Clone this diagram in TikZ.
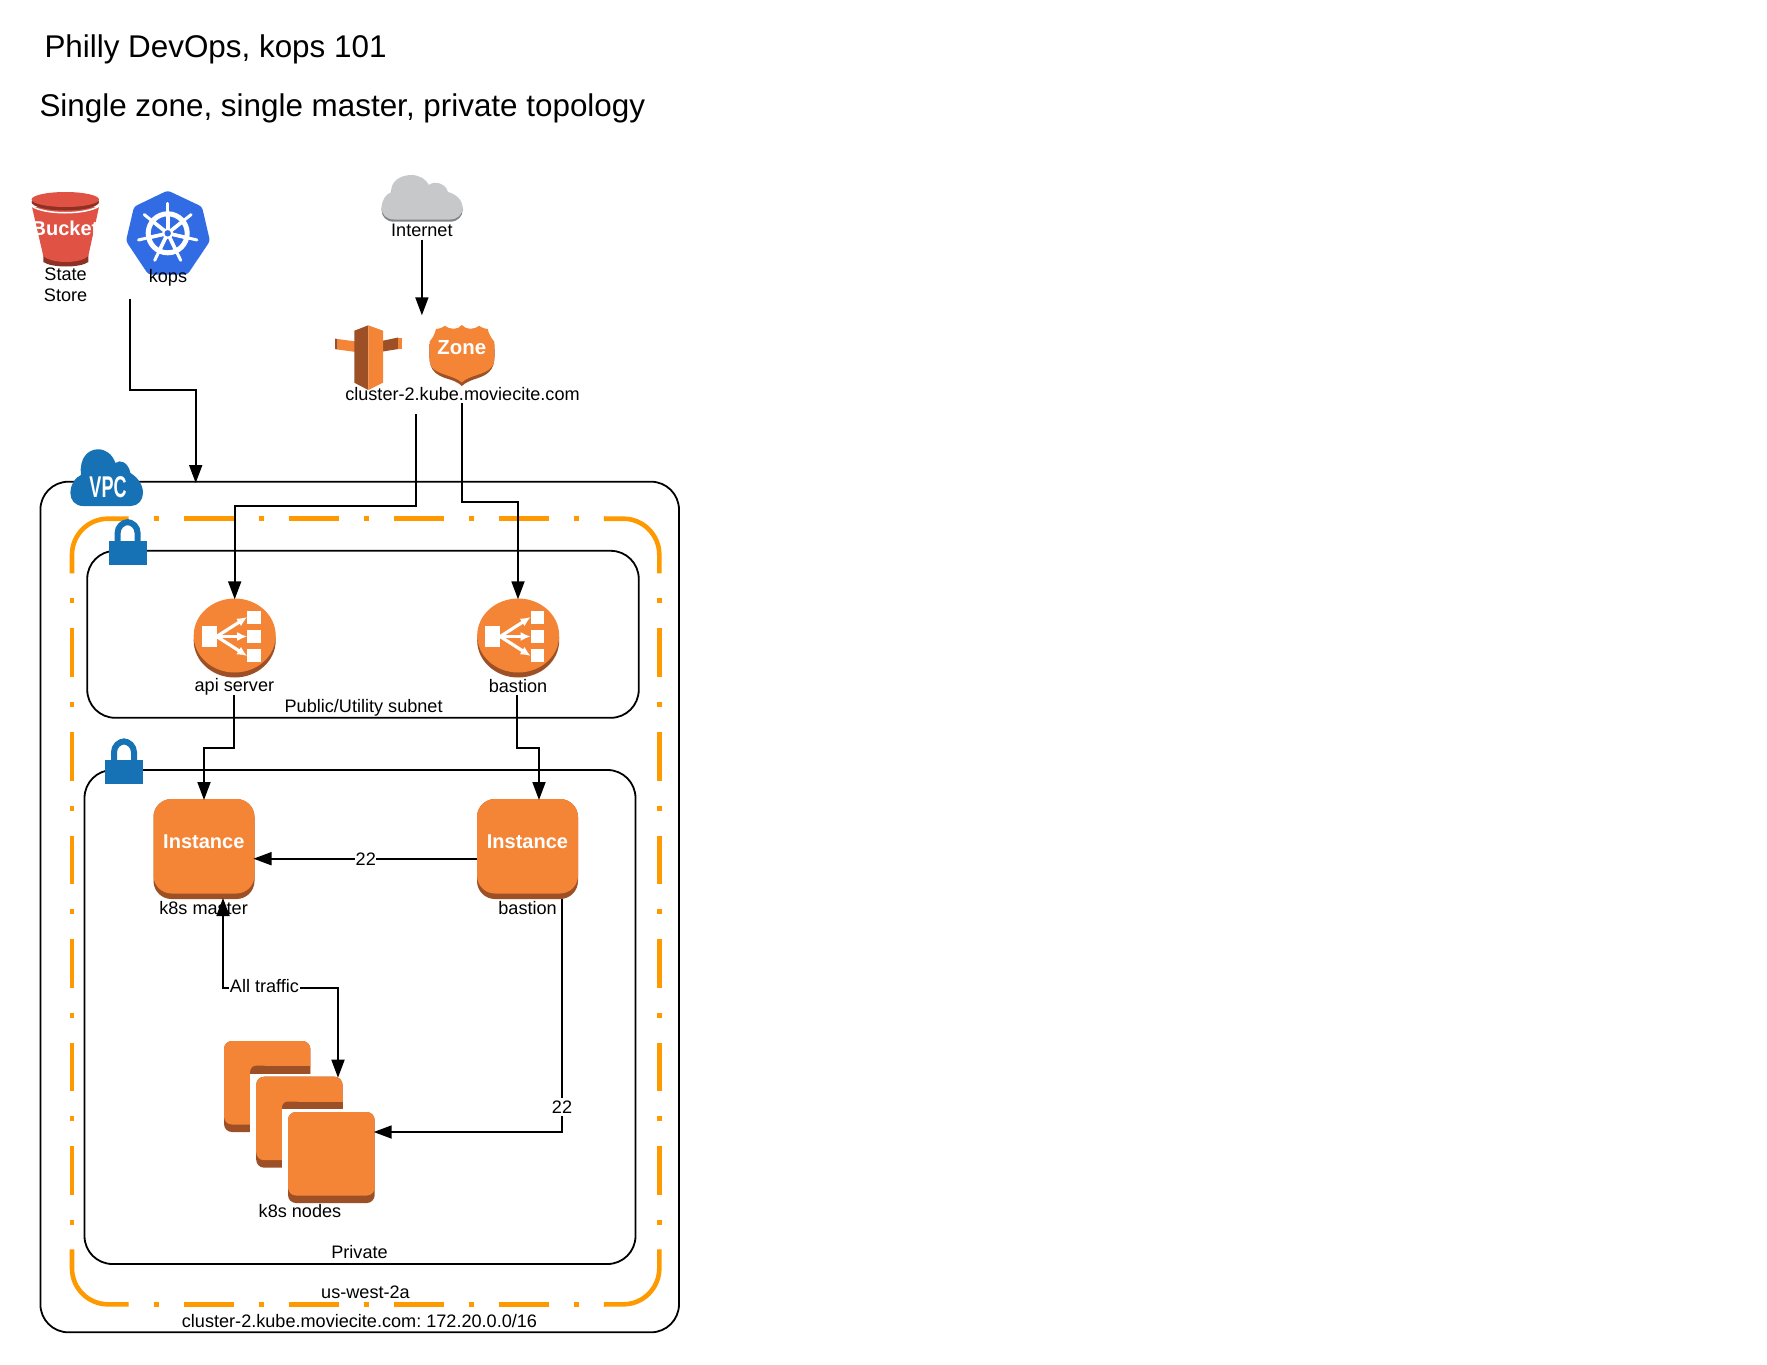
\documentclass[tikz,border=0pt]{standalone}
\usepackage{fontspec}
\usepackage{graphicx}
\setmainfont{Liberation Sans}
\frenchspacing
\usetikzlibrary{arrows.meta,calc}
\definecolor{awsorange}{HTML}{F58536}
\definecolor{awsdark}{HTML}{9D5025}
\definecolor{bucketred}{HTML}{E05243}
\definecolor{bucketdark}{HTML}{8C3123}
\definecolor{kubeblue}{HTML}{326CE5}
\definecolor{awsblue}{HTML}{1672B5}
\definecolor{cloudgray}{HTML}{C7C8CA}
\definecolor{clouddark}{HTML}{808285}
\definecolor{zoneorange}{HTML}{FF9900}
\tikzset{
  lbl/.style={inner sep=0pt,outer sep=0pt,font=\fontsize{18.1}{21.5}\selectfont,align=center},
  titletext/.style={inner sep=0pt,outer sep=0pt,anchor=west,font=\fontsize{31.4}{36}\selectfont},
  wlbl/.style={lbl,fill=white,inner xsep=0.5pt,inner ysep=2.5pt},
  iconlbl/.style={inner sep=0pt,outer sep=0pt,text=white,font=\bfseries\fontsize{20}{22}\selectfont},
  framebox/.style={draw=black,line width=1.8pt,rounded corners=28pt,rectangle,inner sep=0pt,outer sep=0pt},
  conn/.style={draw=black,line width=1.8pt,shorten >=-1pt,-{Triangle[length=18pt,width=13pt]}},
  bothconn/.style={draw=black,line width=1.8pt,shorten >=-1pt,shorten <=-1pt,{Triangle[length=18pt,width=13pt]}-{Triangle[length=18pt,width=13pt]}},
  zonecorner/.style={draw=zoneorange,line width=4.6pt,rounded corners=36pt},
  zonehoriz/.style={draw=zoneorange,line width=4.6pt,dash pattern=on 5pt off 25pt on 50pt off 25pt,dash phase=80pt},
  zonevert/.style={draw=zoneorange,line width=4.6pt,dash pattern=on 5pt off 25pt on 48.6pt off 25pt,dash phase=78.6pt},
  body/.style={rectangle,fill=awsorange,inner sep=0pt,outer sep=0pt},
  bodyshade/.style={rectangle,fill=awsdark,inner sep=0pt,outer sep=0pt},
}
\newcommand{\elbglyph}{%
  \fill[awsdark] (0,5) ellipse [x radius=41,y radius=37];
  \fill[awsorange] (0,0) ellipse [x radius=41,y radius=37];
  \fill[white] (-33,-9.5) rectangle (-18,11);
  \fill[white] (12.6,-24.8) rectangle (26,-12);
  \fill[white] (12.6,-5.5) rectangle (26,7);
  \fill[white] (12.6,13.8) rectangle (26,26.5);
  \draw[white,line width=3.2pt,-{Latex[length=10pt,width=9pt]}] (-18,1) -- (12.5,-18.5);
  \draw[white,line width=3.2pt,-{Latex[length=10pt,width=9pt]}] (-18,1) -- (12.5,1);
  \draw[white,line width=3.2pt,-{Latex[length=10pt,width=9pt]}] (-18,1) -- (12.5,20.5);
}
\newcommand{\lockglyph}{%
  \draw[awsblue,line width=6pt,rounded corners=11pt] (-10,26) -- (-10,3) -- (10,3) -- (10,26);
  \fill[awsblue] (-19,22) rectangle (19,46);
}
\newcommand{\inetcloud}[1]{%
  \fill[#1] (394,219.5) .. controls (386,219.5) and (381.6,214) .. (381.6,208) .. controls (381.6,200) and (386,194) .. (391.5,192) .. controls (390,182) and (400,175) .. (411.2,175) .. controls (419,175) and (426,179) .. (429,185) .. controls (433,181) and (445,182) .. (448,192) .. controls (456,194) and (462.6,200) .. (462.6,208) .. controls (462.6,214) and (458,219.5) .. (450,219.5) -- cycle;
}
\begin{document}
\begin{tikzpicture}[x=1pt,y=-1pt]
\useasboundingbox (0,0) rectangle (1767,1365);
% titles
\node[titletext] (title1) at (44.5,49.5) {Philly DevOps, kops 101};
\node[titletext] (title2) at (39.5,108.3) {Single zone, single master, private topology};

% VPC frame
\node[framebox,minimum width=638.6pt,minimum height=850.6pt] (vpc) at (359.7,907) {};
% zone frame
\draw[zonecorner] (128.6,518.7) -- (72,518.7) -- (72,573.3);
\draw[zonecorner] (603.8,518.7) -- (659.3,518.7) -- (659.3,573.3);
\draw[zonecorner] (128.6,1304.3) -- (72,1304.3) -- (72,1249.3);
\draw[zonecorner] (603.8,1304.3) -- (659.3,1304.3) -- (659.3,1249.3);
\draw[zonehoriz] (128.6,518.7) -- (603.8,518.7);
\draw[zonehoriz] (128.6,1304.3) -- (603.8,1304.3);
\draw[zonevert] (72,573.3) -- (72,1249.3);
\draw[zonevert] (659.3,573.3) -- (659.3,1249.3);
% subnets
\node[framebox,minimum width=551.5pt,minimum height=167pt] (public) at (363,634.3) {};
\node[framebox,minimum width=551pt,minimum height=494pt] (private) at (360,1017) {};

% VPC cloud
\fill[awsblue] (83,506) .. controls (75,506) and (70.4,500) .. (70.4,493) .. controls (70.4,484) and (76,477) .. (81,475) .. controls (79,458) and (88,449.3) .. (98,449.3) .. controls (106,449.3) and (112,454) .. (115.5,463) .. controls (120,459) and (128,462) .. (130.5,473) .. controls (137,477) and (143,484) .. (143,493) .. controls (143,500) and (138,506) .. (131,506) -- cycle;
\node[inner sep=0pt,text=white,font=\bfseries\fontsize{30}{31}\selectfont] (vpclabel) at (108,487) {\scalebox{0.6}[1]{VPC}};

% locks
\begin{scope}[shift={(127.6,519)}] \lockglyph \end{scope}
\begin{scope}[shift={(124,738.3)}] \lockglyph \end{scope}

% bucket
\fill[bucketdark] (43.3,255) -- (88.3,255) -- (88.3,262) .. controls (80,268) and (52,268) .. (43.3,262) -- cycle;
\fill[bucketred] (32,207) -- (99,207) -- (88.3,256) .. controls (80,264) and (52,264) .. (43.3,256) -- cycle;
\draw[white,line width=1.5pt] (31.5,206) .. controls (45,215) and (85,215) .. (99.5,206);
\fill[bucketdark] (65.3,202) ellipse [x radius=33.7,y radius=8.5];
\fill[bucketred] (65.3,199.5) ellipse [x radius=33.7,y radius=7.5];
\node[iconlbl] (bucketlabel) at (65,228.5) {Bucket};
\node[lbl] (state) at (65.6,284.8) {State\\Store};

% kops
\fill[kubeblue,rounded corners=3pt] (167.7,190.5) -- (202,206.7) -- (210,241) -- (187.5,274.5) -- (148.3,274.5) -- (126,241) -- (134,206.7) -- cycle;
\begin{scope}[shift={(167.7,233.3)}]
\draw[white,line width=5pt] (0,0) circle (19.5);
\foreach \a in {90,141.43,192.86,244.29,295.71,347.14,38.57}{
  \draw[white,line width=3pt,line cap=round] (0,0) -- ({30*cos(\a)},{-30*sin(\a)});
  \draw[white,line width=3.6pt] ({3*cos(\a)},{-3*sin(\a)}) -- ({20*cos(\a)},{-20*sin(\a)});
}
\fill[white] (0,0) circle (5.5);
\fill[kubeblue] (0,0) circle (3.2);
\end{scope}
\node[lbl] (kops) at (168,278) {kops};

% internet cloud
\begin{scope}[shift={(0,2.2)}] \inetcloud{clouddark} \end{scope}
\inetcloud{cloudgray}
\node[lbl] (internet) at (421.9,230.5) {Internet};

% route 53 sign post
\fill[awsdark] (335,338.5) -- (337.5,339) -- (337.5,349.5) -- (335,349) -- cycle;
\fill[awsorange] (337.5,339) -- (363.3,342.5) -- (363.3,353) -- (337.5,349.5) -- cycle;
\fill[awsdark] (374,342.5) -- (398.3,337.5) -- (398.3,349) -- (374,353) -- cycle;
\fill[awsorange] (398.3,337.5) -- (402.3,337.5) -- (402.3,349) -- (398.3,349) -- cycle;
\fill[awsdark] (368.3,325.3) -- (354.3,330.7) -- (354.3,382.7) -- (368.3,390) -- cycle;
\fill[awsorange] (368.3,325.3) -- (383,330.7) -- (383,382.7) -- (368.3,390) -- cycle;

% zone shield
\path[fill=awsdark] (429.5,344) .. controls (429,362) and (428,372) .. (445,378) .. controls (452,380) and (458,382) .. (461.8,386) .. controls (466,382) and (472,380) .. (478,378) .. controls (496,372) and (495,362) .. (494.3,344) -- cycle;
\path[fill=awsorange] (436,329) .. controls (440,328.5) and (443,327.5) .. (445,325.8) .. controls (448,328) and (451,328.8) .. (454,328.8) .. controls (457,328.8) and (460,327.3) .. (461.8,325) .. controls (464,327.3) and (467,328.8) .. (470,328.8) .. controls (473,328.8) and (476,328) .. (479,325.8) .. controls (481,327.5) and (484,328.5) .. (487.7,329) .. controls (488.5,333) and (491,338) .. (494.3,341.7) .. controls (494.3,348) and (494.3,355) .. (494.3,359) .. controls (494,369) and (486,372) .. (477,375) .. controls (471,377) and (465,379) .. (461.8,382.5) .. controls (458,379) and (452,377) .. (446,375) .. controls (437,372) and (429.5,369) .. (429.5,359) .. controls (429.5,355) and (429.5,348) .. (429.5,341.7) .. controls (433,338) and (435,333) .. (436,329) -- cycle;
\node[iconlbl,font=\bfseries\fontsize{20.4}{22}\selectfont] (zonelabel) at (461.8,348) {Zone};
\node[lbl] (dns) at (462.5,394.3) {cluster-2.kube.moviecite.com};

% load balancers
\coordinate (elbA) at (234.7,635.5);
\coordinate (elbB) at (518.2,635.5);
\begin{scope}[shift={(elbA)}] \elbglyph \end{scope}
\begin{scope}[shift={(elbB)}] \elbglyph \end{scope}
\node[inner sep=0pt,outer sep=0pt,minimum width=82pt,minimum height=79.4pt] (lbapi) at (234.7,638) {};
\node[inner sep=0pt,outer sep=0pt,minimum width=82pt,minimum height=79.4pt] (lbbastion) at (518,638) {};
\node[lbl] (apilabel) at (234.4,687) {api server};
\node[lbl] (bastlabel) at (518,686) {bastion};
\node[lbl] (publabel) at (363.6,707.5) {Public/Utility subnet};

% instances
\node[bodyshade,rounded corners=18pt,minimum width=101pt,minimum height=100pt] (inst1) at (204,849) {};
\fill[awsorange,rounded corners=18pt] (inst1.north west) rectangle ($(inst1.south east)+(0,-5.5)$);
\node[bodyshade,rounded corners=18pt,minimum width=101pt,minimum height=100pt] (inst2) at (527.5,849) {};
\fill[awsorange,rounded corners=18pt] (inst2.north west) rectangle ($(inst2.south east)+(0,-5.5)$);
\node[iconlbl] (instlabel1) at (203.8,841.7) {Instance};
\node[iconlbl] (instlabel2) at (527.5,841.7) {Instance};
\node[lbl] (masterlabel) at (203.6,908) {k8s master};
\node[lbl] (bastionb) at (527.6,908) {bastion};

% node stack
\fill[awsdark,rounded corners=8pt] (224,1041) rectangle (310.4,1132);
\fill[awsorange,rounded corners=8pt] (224,1041) rectangle (310.4,1124.5);
\fill[awsdark] (258,1065.7) rectangle (310.4,1074);
\fill[awsdark,rounded corners=6pt] (250.2,1065.7) rectangle (270,1085);
\fill[white] (250.2,1073.7) rectangle (312,1140);
\node[bodyshade,rounded corners=8pt,minimum width=86.3pt,minimum height=91pt] (n2) at (299.35,1122.2) {};
\fill[awsorange,rounded corners=8pt] (n2.north west) rectangle ($(n2.south east)+(0,-7.5)$);
\fill[awsdark] (290,1101.5) rectangle (342.5,1110);
\fill[awsdark,rounded corners=6pt] (282,1101.5) rectangle (302,1120);
\fill[white] (282,1109) rectangle (344,1175);
\node[bodyshade,rounded corners=8pt,minimum width=86.7pt,minimum height=91pt] (n3) at (331.35,1157.5) {};
\fill[awsorange,rounded corners=8pt] (n3.north west) rectangle ($(n3.south east)+(0,-7.5)$);
\node[lbl] (nodeslabel) at (300,1211.2) {k8s nodes};

\node[lbl] (privlabel) at (359.5,1252) {Private};
\node[lbl] (azlabel) at (365.5,1292.7) {us-west-2a};
\node[lbl] (cidr) at (359.5,1321) {cluster-2.kube.moviecite.com: 172.20.0.0/16};

% free connector ends
\coordinate (kopsend) at (129.7,299);
\coordinate (internetend) at (421.9,239.5);
\coordinate (dnsin) at (421.9,314.3);
\coordinate (dnsa) at (416,414.3);
\coordinate (dnsb) at (461.8,403.3);
\coordinate (apiend) at (234,695);
\coordinate (bastend) at (517.3,695);
\coordinate (bastionin) at (539,799);
\coordinate (masterin) at (223,899);
\coordinate (nodesin) at (338,1076.7);
\coordinate (bastionout) at (562,899);
\coordinate (vpcin) at (195.7,482);

% connectors
\draw[conn] (kopsend) -- (kopsend |- 0,389.8) -- (vpcin |- 0,389.8) -- (vpcin);
\draw[conn] (internetend) -- (dnsin);
\draw[conn] (dnsa) -- (dnsa |- 0,506) -- (lbapi.north |- 0,506) -- (lbapi.north);
\draw[conn] (dnsb) -- (dnsb |- 0,501.7) -- (lbbastion.north |- 0,501.7) -- (lbbastion.north);
\draw[conn] (apiend) -- (apiend |- 0,747.7) -- (inst1.north |- 0,747.7) -- (inst1.north);
\draw[conn] (bastend) -- (bastend |- 0,747.7) -- (bastionin |- 0,747.7) -- (bastionin);
\draw[conn] (inst2.west |- 0,858.7) -- node[wlbl,pos=0.5] (l22a) {22} (inst1.east |- 0,858.7);
\draw[bothconn] (masterin) -- (masterin |- 0,987.7) -- (nodesin |- 0,987.7) -- (nodesin);
\node[wlbl] (alltraffic) at (264.5,986) {All traffic};
\draw[conn] (bastionout) -- (bastionout |- 0,1132) -- (n3.east |- 0,1132);
\node[wlbl] (l22b) at (562,1106.7) {22};
\end{tikzpicture}
\end{document}
